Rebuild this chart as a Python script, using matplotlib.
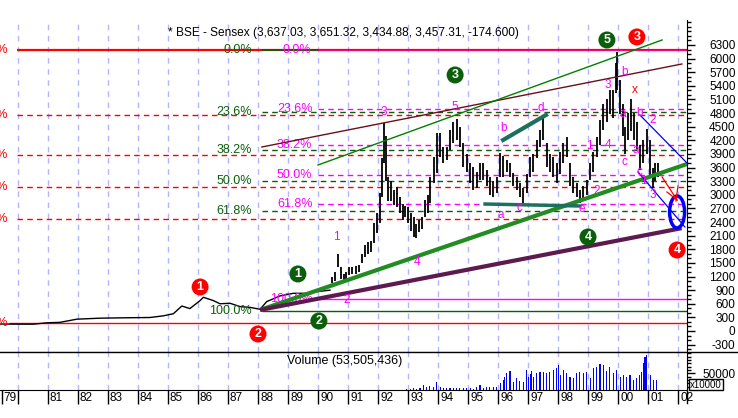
import numpy as np
import matplotlib.pyplot as plt
import matplotlib.transforms as mtransforms
from matplotlib.patches import Ellipse
from matplotlib.lines import Line2D

plt.rcParams['font.family'] = ['Liberation Sans', 'DejaVu Sans']
plt.rcParams['axes.unicode_minus'] = False

title = '* BSE - Sensex (3,637.03, 3,651.32, 3,434.88, 3,457.31, -174.600)'
vol_title = 'Volume (53,505,436)'

# early years, close only (decimal years, index points)
line_t = [1979.4, 1980.07, 1980.51, 1980.96, 1981.4, 1981.96, 1982.73, 1983.51, 1984.4,
          1984.84, 1985.18, 1985.46, 1985.73, 1986.07, 1986.18, 1986.51, 1986.73, 1987.07,
          1987.4, 1987.73, 1988.07, 1988.29, 1988.73, 1989.18, 1989.62, 1989.96, 1990.4]
line_v = [154, 150, 150, 180, 190, 260, 282, 290, 297,
          333, 380, 550, 493, 670, 742, 670, 600, 610,
          537, 520, 478, 647, 772, 830, 830, 866, 900]

# high / low bars from mid 1990
bar_t = [1990.46, 1990.56, 1990.68, 1990.76, 1990.85, 1990.94, 1991.03, 1991.14, 1991.25, 1991.36,
         1991.47, 1991.56, 1991.67, 1991.78, 1991.88, 1991.97, 1992.05, 1992.12, 1992.19, 1992.26,
         1992.34, 1992.43, 1992.52, 1992.62, 1992.72, 1992.82, 1992.91, 1993.00, 1993.10, 1993.19,
         1993.28, 1993.37, 1993.46, 1993.55, 1993.65, 1993.74, 1993.85, 1993.96, 1994.07, 1994.18,
         1994.29, 1994.40, 1994.51, 1994.62, 1994.73, 1994.84, 1994.96, 1995.07, 1995.18, 1995.29,
         1995.40, 1995.51, 1995.62, 1995.73, 1995.84, 1995.95, 1996.07, 1996.18, 1996.29, 1996.40,
         1996.51, 1996.62, 1996.73, 1996.84, 1996.96, 1997.07, 1997.18, 1997.29, 1997.40, 1997.51,
         1997.62, 1997.73, 1997.84, 1997.96, 1998.07, 1998.18, 1998.29, 1998.40, 1998.51, 1998.62,
         1998.73, 1998.84, 1998.96, 1999.07, 1999.18, 1999.29, 1999.40, 1999.51, 1999.62, 1999.73,
         1999.84, 1999.93, 1999.98, 2000.07, 2000.15, 2000.24, 2000.33, 2000.44, 2000.53, 2000.62,
         2000.73, 2000.84, 2000.96, 2001.07, 2001.16, 2001.24, 2001.33]
bar_lo = [1050, 1100, 1400, 1150, 1050, 1100, 1230, 1250, 1260, 1300,
          1500, 1640, 1700, 1750, 1930, 2150, 2370, 2960, 3700, 3300,
          2860, 2860, 2780, 2740, 2600, 2440, 2500, 2370, 2200, 2080,
          2050, 2190, 2250, 2520, 2600, 2810, 3260, 3470, 3840, 3700,
          3770, 3990, 4130, 4200, 4060, 3620, 3500, 3260, 3110, 3150,
          3330, 3330, 3200, 3000, 2960, 3050, 3400, 3400, 3500, 3400,
          3200, 3110, 2950, 2810, 3050, 3400, 3500, 3800, 4060, 4210,
          3620, 3500, 3400, 3250, 3450, 3690, 3840, 3200, 3030, 2960,
          2810, 2900, 3000, 3330, 3500, 3840, 4100, 4430, 4600, 4790,
          4700, 5240, 5310, 4790, 4300, 3900, 4200, 4400, 4200, 4000,
          3550, 3700, 3900, 3400, 3150, 3300, 3400]
bar_hi = [1200, 1300, 1700, 1400, 1250, 1300, 1420, 1400, 1430, 1450,
          1700, 1900, 1970, 1980, 2370, 2600, 3030, 3800, 4574, 4300,
          3400, 3300, 3100, 3180, 2950, 2800, 2750, 2740, 2600, 2520,
          2350, 2450, 2500, 2890, 3000, 3400, 3840, 4350, 4350, 4060,
          4060, 4430, 4600, 4680, 4500, 4130, 3900, 3700, 3620, 3500,
          3690, 3700, 3550, 3400, 3300, 3400, 3920, 3850, 3770, 3700,
          3470, 3400, 3250, 3150, 3450, 3840, 3900, 4200, 4430, 4690,
          4130, 3900, 3840, 3690, 3950, 4130, 4280, 3690, 3400, 3250,
          3100, 3200, 3330, 3690, 3950, 4280, 4650, 5010, 5100, 5310,
          5300, 5900, 6150, 5530, 5000, 4500, 4800, 5100, 4800, 4600,
          4100, 4200, 4450, 4200, 3600, 3700, 3700]

# volume (x10000)
vol_t = [1992.96, 1993.07, 1993.18, 1993.29, 1993.40, 1993.51, 1993.62, 1993.73, 1993.84, 1993.96,
         1994.07, 1994.18, 1994.29, 1994.40, 1994.51, 1994.62, 1994.73, 1994.84, 1994.96, 1995.07,
         1995.18, 1995.29, 1995.40, 1995.51, 1995.62, 1995.73, 1995.84, 1995.96, 1996.07, 1996.18,
         1996.23, 1996.29, 1996.40, 1996.51, 1996.62, 1996.73, 1996.84, 1996.96, 1997.01, 1997.07,
         1997.12, 1997.18, 1997.29, 1997.40, 1997.51, 1997.62, 1997.73, 1997.84, 1997.96, 1998.01,
         1998.07, 1998.18, 1998.29, 1998.40, 1998.51, 1998.62, 1998.73, 1998.84, 1998.96, 1999.07,
         1999.18, 1999.29, 1999.40, 1999.51, 1999.62, 1999.73, 1999.84, 1999.96, 2000.07, 2000.18,
         2000.29, 2000.40, 2000.51, 2000.62, 2000.73, 2000.79, 2000.84, 2000.90, 2000.96, 2001.07,
         2001.18, 2001.29]
vol_v = [4000, 4000, 5000, 4000, 5000, 15000, 8000, 12000, 10000, 24000,
         10000, 7000, 6000, 6000, 5000, 6000, 6000, 5000, 5000, 6000,
         4000, 10000, 14000, 7000, 10000, 10000, 8000, 8000, 20000, 30000,
         40000, 50000, 57000, 25000, 35000, 28000, 25000, 60000, 40000, 48000,
         57000, 40000, 50000, 55000, 55000, 52000, 55000, 60000, 65000, 75000,
         45000, 60000, 50000, 40000, 35000, 52000, 53000, 52000, 55000, 35000,
         65000, 70000, 78000, 75000, 58000, 68000, 50000, 60000, 40000, 46000,
         40000, 45000, 30000, 35000, 45000, 55000, 82000, 100000, 104000, 45000,
         30000, 30000]

year_ticks = [1979.45] + list(range(1981, 2003))
year_labels = ['79', '81', '82', '83', '84', '85', '86', '87', '88', '89', '90', '91',
               '92', '93', '94', '95', '96', '97', '98', '99', '00', '01', '02']
grid_years = list(range(1980, 2003))

# fibonacci retracement tools (high, low)
fib_ratios = [0.0, 0.236, 0.382, 0.5, 0.618, 1.0]
fib_labels = ['0.0%', '23.6%', '38.2%', '50.0%', '61.8%', '100.0%']
red_hi, red_lo = 6180, 170
green_hi, green_lo = 6180, 440
mag_hi, mag_lo = 6180, 700

# trend lines ((t0, t1), (v0, v1))
tl_green_thick = ([1988.07, 2002.3], [463, 3678])
tl_purple_thick = ([1988.07, 2002.12], [463, 2265])
tl_maroon = ([1988.13, 2002.13], [4053, 5881])
tl_green_thin = ([1990.0, 2001.47], [3656, 6410])
tl_teal_bd = ([1996.17, 1997.6], [4207, 4758])
tl_teal_ace = ([1995.57, 1998.73], [2797, 2753])
tl_blue_up = ([2000.73, 2002.3], [4758, 3700])
tl_blue_dn = ([2000.67, 2002.23], [3502, 2291])

# elliott wave counts
circ_num = ['1', '2', '3', '4', '1', '2', '3', '4', '5']
circ_t = [1986.07, 1988.0, 2000.63, 2001.97, 1989.33, 1990.03, 1994.57, 1999.0, 1999.63]
circ_v = [969, -66, 6476, 1784, 1256, 220, 5639, 2070, 6410]
circ_col = ['#ff0000'] * 4 + ['#0b5e0b'] * 5

wave_txt = ['1', '2', '3', '4', '5', 'a', 'b', 'c', 'd', 'e', '1', '2', '3', '4',
            'b', 'a', 'c', 'b', '2', 'a', 'c', '1', '3']
wave_t = [1990.6, 1990.97, 1992.2, 1993.3, 1994.57, 1996.1, 1996.17, 1996.73, 1997.43, 1998.8,
          1999.03, 1999.3, 1999.67, 1999.67, 2000.23, 2000.17, 2000.23, 2000.73, 2001.17,
          2000.6, 2000.73, 2000.83, 2001.17]
wave_v = [2070, 683, 4824, 1520, 4934, 2555, 4471, 2709, 4912, 2687,
          4075, 3084, 5419, 4097, 5705, 4780, 3722, 4802, 4648,
          3987, 3502, 3304, 2996]

W, H = 738, 418
fig = plt.figure(figsize=(W / 100, H / 100), dpi=100)
ax = fig.add_axes([0, 1 - 352 / H, 687 / W, (352 - 20) / H])
axv = fig.add_axes([0, 1 - 390 / H, 687 / W, (390 - 352) / H], sharex=ax)
ax.set_xlim(1979.4, 2002.3)
ax.set_ylim(-463, 6850)
axv.set_ylim(0, 114000)

grid_kw = dict(colors='#b4b4ff', linestyles=(0, (4, 4)), lw=1, zorder=0)
for a in (ax, axv):
    a.vlines(grid_years, 0, 1, transform=a.get_xaxis_transform(), **grid_kw)
    a.spines['left'].set_visible(False)
    a.spines['top'].set_visible(False)
    a.yaxis.tick_right()

# fib levels
def fib_levels(hi, lo):
    return [hi - r * (hi - lo) for r in fib_ratios]

red_lv = fib_levels(red_hi, red_lo)
green_lv = fib_levels(green_hi, green_lo)
mag_lv = fib_levels(mag_hi, mag_lo)
dash = (0, (4, 3))
ax.hlines(red_lv[1:5], 1979.95, 2002.3, colors='#ff0000', linestyles=dash, lw=1, zorder=1)
ax.hlines(green_lv[1:5], 1988.13, 2002.3, colors='#0b5e0b', linestyles=dash, lw=1, zorder=1)
ax.hlines(mag_lv[1:5], 1990.0, 2002.3, colors='#ff00ff', linestyles=dash, lw=1, zorder=1)
ax.hlines(red_lv[5], 1979.7, 2002.3, colors='#ff0000', lw=1, zorder=1)
ax.hlines(green_lv[5], 1988.13, 2002.3, colors='#0b5e0b', lw=1, zorder=1)
ax.hlines(mag_lv[5], 1989.73, 2002.3, colors='#ff00ff', lw=1, zorder=1)
ax.hlines(red_lv[0], 1979.95, 2002.3, colors='#ff0000', lw=1.6, zorder=1)
ax.hlines(green_lv[0], 1988.13, 1990.0, colors='#0b5e0b', lw=1.2, zorder=1)
ax.hlines(mag_lv[0], 1990.0, 2002.3, colors='#ff00ff', lw=0.6, alpha=0.6, zorder=1)

fs = 9
for lab, lv in zip(fib_labels, red_lv):
    ax.text(1979.67, lv, lab, color='#ff0000', fontsize=fs, ha='right', va='center', clip_on=False)
for lab, lv in zip(fib_labels, green_lv):
    ax.text(1987.8, lv, lab, color='#0b5e0b', fontsize=fs, ha='right', va='center', zorder=3)
for i, (lab, lv) in enumerate(zip(fib_labels, mag_lv)):
    x0 = 1988.83 if i == 0 else (1988.4 if i == 5 else 1988.63)
    ax.text(x0, lv, lab, color='#ff00ff', fontsize=fs, ha='left', va='center', zorder=3)

# price
ax.plot(line_t, line_v, color='black', lw=1, zorder=2)
ax.vlines(bar_t, bar_lo, bar_hi, colors='black', lw=1.3, zorder=2)

# trend lines
ax.plot(*tl_green_thick, color='#228b22', lw=3, zorder=3, solid_capstyle='butt')
ax.plot(*tl_purple_thick, color='#5c1a4e', lw=3, zorder=3, solid_capstyle='butt')
ax.plot(*tl_maroon, color='#6b0f1a', lw=1, zorder=3)
ax.plot(*tl_green_thin, color='#008000', lw=1, zorder=3)
ax.plot(*tl_teal_bd, color='#1f6f5f', lw=3, zorder=3)
ax.plot(*tl_teal_ace, color='#1f6f5f', lw=2.5, zorder=3)
ax.plot(*tl_blue_up, color='#0000ff', lw=0.9, zorder=3)
ax.plot(*tl_blue_dn, color='#0000ff', lw=0.9, zorder=3)
ax.add_patch(Ellipse((2001.97, 2621), 0.5, 705, fill=False, ec='#0000ff', lw=2.5, zorder=4))
ax.plot([2001.47, 2001.97], [3392, 2885], color='#ff0000', lw=0.9, zorder=4)
ax.plot([2001.63, 2001.97], [3062, 2885], color='#ff0000', lw=0.9, zorder=4)
ax.plot([2002.0, 2001.93], [3194, 2863], color='#ff0000', lw=0.9, zorder=4)

for s, t, v in zip(wave_txt, wave_t, wave_v):
    ax.text(t, v, s, color='#ff00ff', fontsize=8.5, ha='center', va='center', zorder=5)
ax.text(2000.57, 5308, 'x', color='#ff0000', fontsize=8.5, ha='center', va='center', zorder=5)

ax.scatter(circ_t, circ_v, s=150, c=circ_col, edgecolors='none', zorder=6, clip_on=False)
for s, t, v in zip(circ_num, circ_t, circ_v):
    ax.text(t, v, s, color='white', fontsize=9, fontweight='bold', ha='center', va='center',
            zorder=7, clip_on=False)

fig.text(343 / W, 1 - 33 / H, title, fontsize=8.6, ha='center', va='center')

# axes / ticks
ax.set_yticks(np.arange(-300, 6301, 300))
ax.set_yticks(np.arange(-400, 6801, 100), minor=True)
ax.tick_params(axis='y', which='major', length=6, width=1, labelsize=8.5, pad=29)
ax.tick_params(axis='y', which='minor', length=3, width=1)
for lbl in ax.get_yticklabels():
    lbl.set_ha('right')
ax.tick_params(axis='x', which='both', bottom=False, labelbottom=False)

axv.bar(vol_t, vol_v, width=0.035, color='#0000ff', zorder=2)
axv.set_yticks([50000])
axv.set_yticks(np.arange(10000, 110001, 10000), minor=True)
axv.tick_params(axis='y', which='major', length=6, width=1, labelsize=8.5, pad=29)
axv.tick_params(axis='y', which='minor', length=3, width=1)
for lbl in axv.get_yticklabels():
    lbl.set_ha('right')
fig.text(287 / W, 1 - 361 / H, vol_title, fontsize=fs, va='center')
fig.text(690 / W, 1 - 384.5 / H, 'x10000', fontsize=7, va='center',
         bbox=dict(boxstyle='square,pad=0.1', fc='white', ec='black', lw=1))

axv.set_xticks(year_ticks)
axv.set_xticklabels(year_labels)
axv.set_xticks([1980], minor=True)
axv.tick_params(axis='x', which='both', direction='out', length=10, width=1,
                labelsize=8.5, pad=-8.5)
off = mtransforms.ScaledTranslation(2 / 100, 0, fig.dpi_scale_trans)
for lbl in axv.get_xticklabels():
    lbl.set_ha('left')
    lbl.set_transform(lbl.get_transform() + off)

fig.add_artist(Line2D([0, 1], [1 - 352 / H] * 2, color='black', lw=1))
fig.add_artist(Line2D([687 / W] * 2, [1 - 390 / H, 1 - 403 / H], color='black', lw=1))

fig.savefig('out.png', dpi=100)
